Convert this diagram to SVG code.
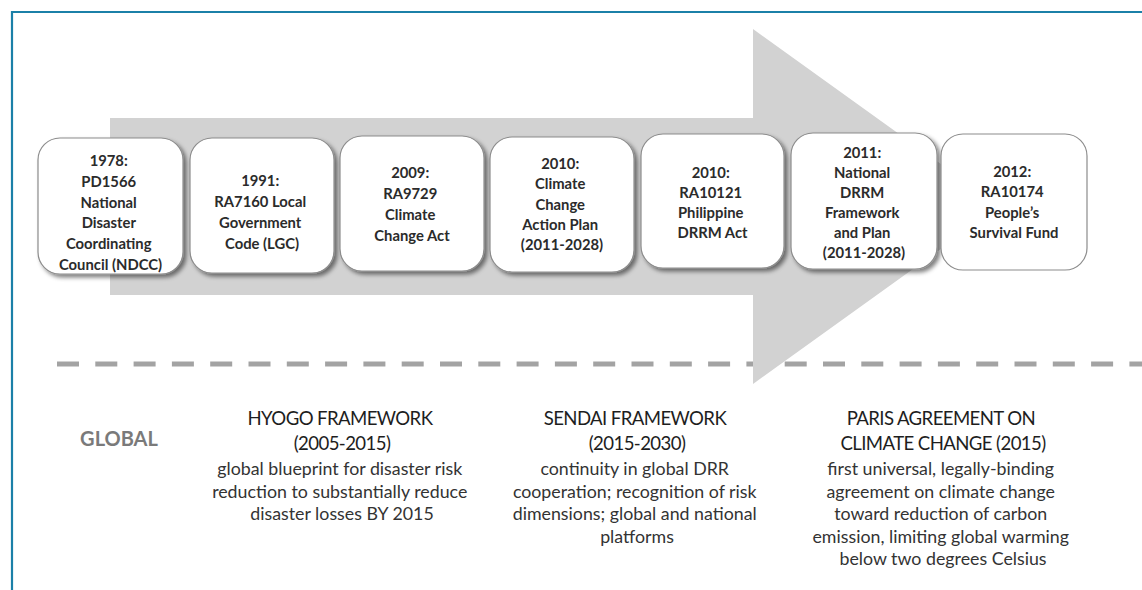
<svg xmlns="http://www.w3.org/2000/svg" width="1142" height="590" viewBox="0 0 1142 590">
  <defs>
    <filter id="boxShadow" x="-10%" y="-10%" width="125%" height="125%">
      <feGaussianBlur in="SourceAlpha" stdDeviation="2"/>
      <feOffset dx="2.5" dy="2.5" result="blur"/>
      <feFlood flood-color="#000" flood-opacity="0.5"/>
      <feComposite in2="blur" operator="in" result="shadow"/>
      <feMerge>
        <feMergeNode in="shadow"/>
        <feMergeNode in="SourceGraphic"/>
      </feMerge>
    </filter>
  </defs>
  <style>
    .frame { stroke: #1b80a8; stroke-width: 2.2; fill: none; }
    .arrow { fill: #d2d2d2; }
    .divider { stroke: #a3a3a3; stroke-width: 5; stroke-dasharray: 22 16.3; fill: none; }
    .box { fill: #ffffff; stroke: #8c8c8c; stroke-width: 1.2; }
    .shadowed { filter: url(#boxShadow); }
    .label { font-family: Lato, "Open Sans", "Liberation Sans", sans-serif; font-weight: 700; font-size: 14.8px; fill: #2b2b2b; text-anchor: middle; }
    .title { font-family: Lato, "Open Sans", "Liberation Sans", sans-serif; font-size: 18.6px; fill: #1e1e1e; text-anchor: middle; letter-spacing: -0.6px; }
    .body { font-family: Lato, "Open Sans", "Liberation Sans", sans-serif; font-size: 17.8px; fill: #333333; text-anchor: middle; }
    .scope { font-family: Lato, "Open Sans", "Liberation Sans", sans-serif; font-weight: 700; font-size: 20px; fill: #7a7a7a; text-anchor: middle; }
  </style>

  <rect width="1142" height="590" fill="#ffffff"/>

  <!-- frame: top and left rules -->
  <path class="frame" d="M12,590 V12 H1142"/>

  <!-- national / global divider -->
  <line class="divider" x1="57" y1="364" x2="1142" y2="364"/>

  <!-- timeline arrow -->
  <path class="arrow" d="M110,118 H753 V29 L1000,206.5 L753,384 V295 H110 Z"/>

  <!-- national milestones -->
  <g id="node-1978">
    <rect class="box shadowed" x="38" y="138" width="145" height="136" rx="22"/>
    <text class="label">
      <tspan x="110.5" y="166">1978:</tspan>
      <tspan x="110.5" y="187">PD1566</tspan>
      <tspan x="110.5" y="207.5">National</tspan>
      <tspan x="110.5" y="228">Disaster</tspan>
      <tspan x="110.5" y="249">Coordinating</tspan>
      <tspan x="110.5" y="270">Council (NDCC)</tspan>
    </text>
  </g>

  <g id="node-1991">
    <rect class="box shadowed" x="190" y="138" width="144" height="135" rx="22"/>
    <text class="label">
      <tspan x="262" y="186">1991:</tspan>
      <tspan x="262" y="207">RA7160 Local</tspan>
      <tspan x="262" y="228">Government</tspan>
      <tspan x="262" y="249">Code (LGC)</tspan>
    </text>
  </g>

  <g id="node-2009">
    <rect class="box shadowed" x="340" y="136" width="144" height="135" rx="22"/>
    <text class="label">
      <tspan x="412" y="178">2009:</tspan>
      <tspan x="412" y="199">RA9729</tspan>
      <tspan x="412" y="220">Climate</tspan>
      <tspan x="412" y="241">Change Act</tspan>
    </text>
  </g>

  <g id="node-2010-ccap">
    <rect class="box shadowed" x="490" y="137" width="144" height="135" rx="22"/>
    <text class="label">
      <tspan x="562" y="169">2010:</tspan>
      <tspan x="562" y="189">Climate</tspan>
      <tspan x="562" y="209.5">Change</tspan>
      <tspan x="562" y="230">Action Plan</tspan>
      <tspan x="562" y="250">(2011-2028)</tspan>
    </text>
  </g>

  <g id="node-2010-drrm">
    <rect class="box shadowed" x="641" y="134" width="143" height="134" rx="22"/>
    <text class="label">
      <tspan x="712.5" y="178">2010:</tspan>
      <tspan x="712.5" y="198">RA10121</tspan>
      <tspan x="712.5" y="218">Philippine</tspan>
      <tspan x="712.5" y="238">DRRM Act</tspan>
    </text>
  </g>

  <g id="node-2011">
    <rect class="box shadowed" x="791" y="133" width="146" height="136" rx="22"/>
    <text class="label">
      <tspan x="864" y="158">2011:</tspan>
      <tspan x="864" y="178">National</tspan>
      <tspan x="864" y="198">DRRM</tspan>
      <tspan x="864" y="218">Framework</tspan>
      <tspan x="864" y="238">and Plan</tspan>
      <tspan x="864" y="258">(2011-2028)</tspan>
    </text>
  </g>

  <g id="node-2012">
    <rect class="box" x="941" y="134" width="146" height="136" rx="22"/>
    <text class="label">
      <tspan x="1014" y="177">2012:</tspan>
      <tspan x="1014" y="197">RA10174</tspan>
      <tspan x="1014" y="217.5">People’s</tspan>
      <tspan x="1014" y="238">Survival Fund</tspan>
    </text>
  </g>

  <!-- global frameworks -->
  <text id="scope-global" class="scope" x="119" y="446">GLOBAL</text>

  <g id="hyogo">
    <text class="title">
      <tspan x="342" y="425">HYOGO FRAMEWORK</tspan>
      <tspan x="342" y="450">(2005-2015)</tspan>
    </text>
    <text class="body">
      <tspan x="342" y="475">global blueprint for disaster risk</tspan>
      <tspan x="342" y="497.5">reduction to substantially reduce</tspan>
      <tspan x="342" y="520">disaster losses BY 2015</tspan>
    </text>
  </g>

  <g id="sendai">
    <text class="title">
      <tspan x="637" y="425">SENDAI FRAMEWORK</tspan>
      <tspan x="637" y="450">(2015-2030)</tspan>
    </text>
    <text class="body">
      <tspan x="637" y="475">continuity in global DRR</tspan>
      <tspan x="637" y="497.5">cooperation; recognition of risk</tspan>
      <tspan x="637" y="520">dimensions; global and national</tspan>
      <tspan x="637" y="542.5">platforms</tspan>
    </text>
  </g>

  <g id="paris">
    <text class="title">
      <tspan x="943" y="425">PARIS AGREEMENT ON</tspan>
      <tspan x="943" y="450">CLIMATE CHANGE (2015)</tspan>
    </text>
    <text class="body">
      <tspan x="943" y="475">first universal, legally-binding</tspan>
      <tspan x="943" y="497.5">agreement on climate change</tspan>
      <tspan x="943" y="520">toward reduction of carbon</tspan>
      <tspan x="943" y="542.5">emission, limiting global warming</tspan>
      <tspan x="943" y="565">below two degrees Celsius</tspan>
    </text>
  </g>
</svg>
